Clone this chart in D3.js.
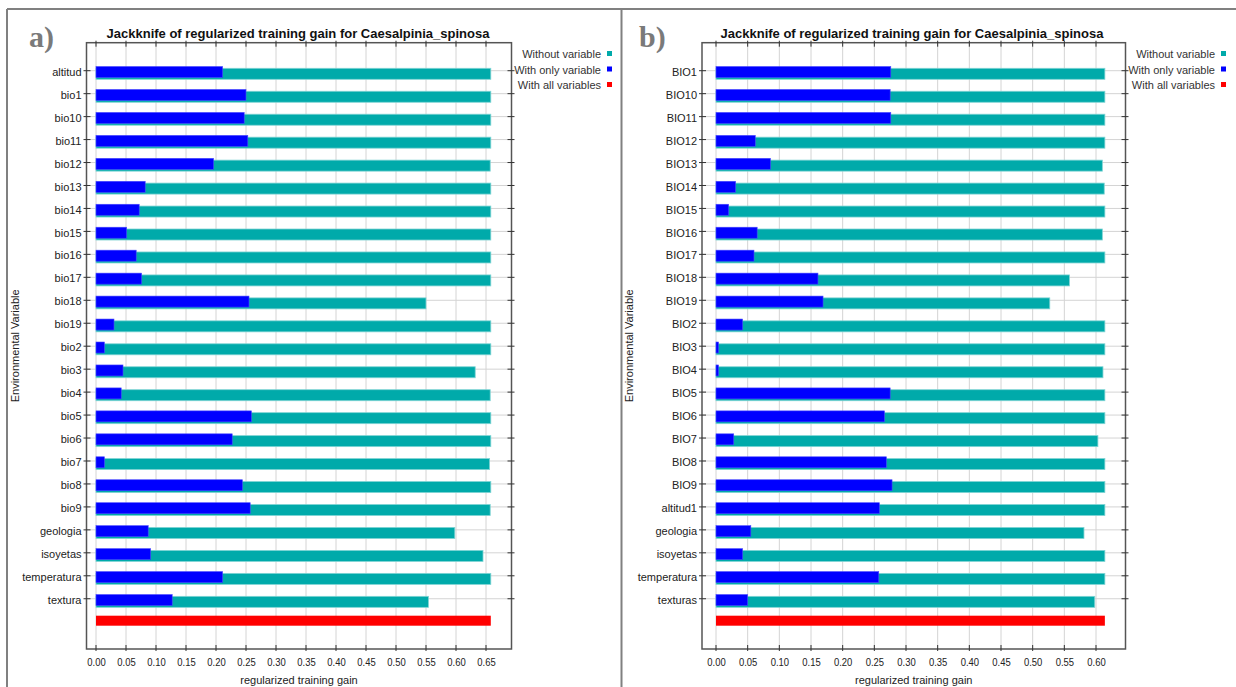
<!DOCTYPE html>
<html>
<head>
<meta charset="utf-8">
<script src="https://cdn.jsdelivr.net/npm/d3@7"></script>
<style>
  body { margin: 0; background: #fff; }
  svg { display: block; }
</style>
</head>
<body>
<svg id="chart" width="1236" height="687"></svg>
<script>
// ---- Panel a: jackknife of regularized training gain ----
const varsA = ["altitud","bio1","bio10","bio11","bio12","bio13","bio14","bio15","bio16","bio17",
  "bio18","bio19","bio2","bio3","bio4","bio5","bio6","bio7","bio8","bio9",
  "geologia","isoyetas","temperatura","textura"];
const withoutA = [0.658,0.658,0.658,0.658,0.657,0.658,0.658,0.658,0.658,0.658,
  0.550,0.658,0.658,0.632,0.657,0.658,0.658,0.656,0.658,0.657,
  0.598,0.645,0.658,0.554];
const onlyA = [0.211,0.250,0.247,0.253,0.196,0.082,0.072,0.051,0.067,0.076,
  0.255,0.030,0.014,0.045,0.042,0.259,0.227,0.014,0.244,0.257,
  0.087,0.091,0.211,0.127];
const allA = 0.658;
const ticksA = [0,0.05,0.10,0.15,0.20,0.25,0.30,0.35,0.40,0.45,0.50,0.55,0.60,0.65];

// ---- Panel b ----
const varsB = ["BIO1","BIO10","BIO11","BIO12","BIO13","BIO14","BIO15","BIO16","BIO17","BIO18",
  "BIO19","BIO2","BIO3","BIO4","BIO5","BIO6","BIO7","BIO8","BIO9","altitud1",
  "geologia","isoyetas","temperatura","texturas"];
const withoutB = [0.614,0.614,0.614,0.614,0.610,0.613,0.614,0.610,0.614,0.558,
  0.527,0.614,0.614,0.611,0.614,0.614,0.603,0.614,0.614,0.614,
  0.581,0.614,0.614,0.598];
const onlyB = [0.276,0.275,0.276,0.062,0.086,0.031,0.020,0.065,0.060,0.161,
  0.169,0.042,0.004,0.004,0.275,0.266,0.028,0.269,0.278,0.258,
  0.055,0.042,0.257,0.050];
const allB = 0.614;
const ticksB = [0,0.05,0.10,0.15,0.20,0.25,0.30,0.35,0.40,0.45,0.50,0.55,0.60];

const legendItems = ["Without variable","With only variable","With all variables"];
const colors = { without: "#00aaaa", only: "#0000ff", all: "#ff0000" };
const titleText = "Jackknife of regularized training gain for Caesalpinia_spinosa";
const ALL = "__all__";
const SANS = '"Liberation Sans", Arial, sans-serif';
const SERIF = '"Liberation Serif", "Times New Roman", serif';

const svg = d3.select("#chart").attr("font-family", SANS);

// outer panel frames
const frame = svg.append("g").attr("stroke", "#808080").attr("stroke-width", 2).attr("fill", "none");
frame.append("line").attr("x1", 7).attr("y1", 9).attr("x2", 1236).attr("y2", 9);
frame.append("line").attr("x1", 7).attr("y1", 9).attr("x2", 7).attr("y2", 687);
frame.append("line").attr("x1", 621.5).attr("y1", 9).attr("x2", 621.5).attr("y2", 687);

function drawPanel(cfg) {
  const g = svg.append("g");
  const { left, right, top, bottom } = cfg.box;

  const x = d3.scaleLinear().domain([0, cfg.ticks[cfg.ticks.length - 1]]).range(cfg.xRange);
  const y = d3.scalePoint().domain([...cfg.vars, ALL]).range([70.7, 621.7]);

  // grid
  const grid = g.append("g").attr("stroke", "#d4d4d4").attr("stroke-width", 1);
  grid.selectAll(".vg").data(cfg.ticks).join("line")
    .attr("x1", d => x(d)).attr("x2", d => x(d))
    .attr("y1", top).attr("y2", bottom);
  grid.selectAll(".hg").data(cfg.vars).join("line")
    .attr("x1", left).attr("x2", right)
    .attr("y1", d => y(d)).attr("y2", d => y(d));

  // bars: without variable (teal), with only variable (blue)
  const rows = cfg.vars.map((v, i) => ({ v, without: cfg.without[i], only: cfg.only[i] }));
  g.selectAll(".wo").data(rows).join("rect")
    .attr("x", x(0)).attr("y", d => y(d.v) - 2.4)
    .attr("width", d => x(d.without) - x(0)).attr("height", 11)
    .attr("fill", colors.without).attr("stroke", "#7fd4d4").attr("stroke-width", 0.8);
  g.selectAll(".on").data(rows).join("rect")
    .attr("x", x(0)).attr("y", d => y(d.v) - 4.2)
    .attr("width", d => x(d.only) - x(0)).attr("height", 11)
    .attr("fill", colors.only).attr("stroke", "#4a4aff").attr("stroke-width", 0.6);
  // with all variables (red)
  g.append("rect")
    .attr("x", x(0)).attr("y", y(ALL) - 6)
    .attr("width", x(cfg.all) - x(0)).attr("height", 10)
    .attr("fill", colors.all);

  // plot frame
  g.append("rect").attr("x", left).attr("y", top)
    .attr("width", right - left).attr("height", bottom - top)
    .attr("fill", "none").attr("stroke", "#555").attr("stroke-width", 1.5);

  // tick marks on all four sides
  const tk = g.append("g").attr("stroke", "#333").attr("stroke-width", 1);
  tk.selectAll(".tt").data(cfg.ticks).join("line")
    .attr("x1", d => x(d)).attr("x2", d => x(d)).attr("y1", top - 2).attr("y2", top + 4);
  tk.selectAll(".tb").data(cfg.ticks).join("line")
    .attr("x1", d => x(d)).attr("x2", d => x(d)).attr("y1", bottom - 4).attr("y2", bottom + 2);
  tk.selectAll(".tl").data(cfg.vars).join("line")
    .attr("x1", left - 3).attr("x2", left + 4).attr("y1", d => y(d)).attr("y2", d => y(d));
  tk.selectAll(".tr").data(cfg.vars).join("line")
    .attr("x1", right - 4).attr("x2", right + 3).attr("y1", d => y(d)).attr("y2", d => y(d));

  // category labels
  const yAxis = d3.axisLeft(y).tickValues(cfg.vars).tickSize(0).tickPadding(0);
  const ya = g.append("g").attr("transform", `translate(${left - 5},0)`).call(yAxis);
  ya.select(".domain").remove();
  ya.attr("font-family", SANS);
  ya.selectAll("text").attr("font-size", 11).attr("fill", "#222").attr("dy", "0.42em");

  // x tick labels
  const xAxis = d3.axisBottom(x).tickValues(cfg.ticks).tickFormat(d3.format(".2f")).tickSize(0).tickPadding(0);
  const xa = g.append("g").attr("transform", `translate(0,${bottom + 9})`).call(xAxis);
  xa.select(".domain").remove();
  xa.attr("font-family", SANS);
  xa.selectAll("text").attr("font-size", 11).attr("fill", "#222")
    .attr("transform", "scale(0.86,1)");

  // axis titles
  g.append("text").attr("x", (left + right) / 2).attr("y", 684)
    .attr("text-anchor", "middle").attr("font-size", 11).attr("fill", "#222")
    .text("regularized training gain");
  g.append("text").attr("transform", `translate(${cfg.yTitleX},${(top + bottom) / 2}) rotate(-90)`)
    .attr("text-anchor", "middle").attr("font-size", 11).attr("fill", "#222")
    .text("Environmental Variable");

  // chart title
  g.append("text").attr("x", cfg.titleX).attr("y", 38)
    .attr("text-anchor", "middle").attr("font-size", 13).attr("font-weight", "bold")
    .attr("fill", "#111").text(titleText);

  // panel letter
  g.append("text").attr("x", cfg.letterX).attr("y", 47)
    .attr("font-family", SERIF)
    .attr("font-size", 30).attr("font-weight", "bold").attr("fill", "#7a7a7a")
    .text(cfg.letter);

  // legend
  const lg = g.append("g");
  const legendColors = [colors.without, colors.only, colors.all];
  legendItems.forEach((t, i) => {
    const yy = 54 + i * 15.5;
    lg.append("text").attr("x", cfg.legendX).attr("y", yy + 4)
      .attr("text-anchor", "end").attr("font-size", 11).attr("fill", "#333").text(t);
    lg.append("rect").attr("x", cfg.legendX + 6).attr("y", yy - 3)
      .attr("width", 5).attr("height", 5).attr("fill", legendColors[i]);
  });
}

drawPanel({
  vars: varsA, without: withoutA, only: onlyA, all: allA, ticks: ticksA,
  box: { left: 86.5, right: 511.5, top: 42.7, bottom: 649 },
  xRange: [96, 486], titleX: 298, yTitleX: 19, letter: "a)", letterX: 29, legendX: 601
});
drawPanel({
  vars: varsB, without: withoutB, only: onlyB, all: allB, ticks: ticksB,
  box: { left: 702, right: 1125.5, top: 42.7, bottom: 649 },
  xRange: [716, 1096], titleX: 912, yTitleX: 633, letter: "b)", letterX: 639, legendX: 1215
});
</script>
</body>
</html>
